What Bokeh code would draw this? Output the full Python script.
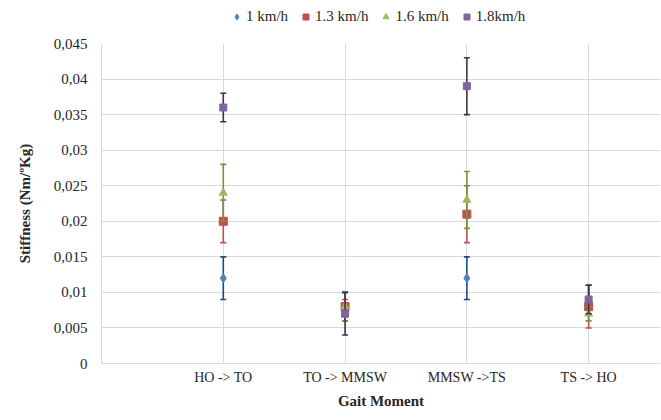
from bokeh.plotting import figure
from bokeh.layouts import column
from bokeh.models import FixedTicker, Legend, LegendItem, Range1d, ColumnDataSource
from bokeh.embed import file_html
from bokeh.resources import INLINE

# ---- data ----
categories = ["HO -> TO", "TO -> MMSW", "MMSW ->TS", "TS -> HO"]
cat_x = [1, 2, 3, 4]
series_names = ["1 km/h", "1.3 km/h", "1.6 km/h", "1.8km/h"]
v_1 = [0.012, 0.008, 0.012, 0.009]
e_1 = [0.003, 0.002, 0.003, 0.002]
v_13 = [0.020, 0.008, 0.021, 0.008]
e_13 = [0.003, 0.001, 0.004, 0.003]
v_16 = [0.024, 0.008, 0.023, 0.007]
e_16 = [0.004, 0.002, 0.004, 0.001]
v_18 = [0.036, 0.007, 0.039, 0.009]
e_18 = [0.002, 0.003, 0.004, 0.002]
y_ticks = [0, 0.005, 0.01, 0.015, 0.02, 0.025, 0.03, 0.035, 0.04, 0.045]
y_tick_labels = ["0", "0,005", "0,01", "0,015", "0,02", "0,025", "0,03", "0,035", "0,04", "0,045"]

FONT = "Liberation Serif"
LEG_H = 33

p = figure(width=661, height=420 - LEG_H, output_backend="svg", toolbar_location=None,
           x_range=Range1d(0, 4.59), y_range=Range1d(0, 0.045),
           min_border_left=101, min_border_right=1, min_border_top=10, min_border_bottom=57)
p.outline_line_color = None
p.background_fill_color = "white"
p.border_fill_color = "white"

# legend strip (separate figure so the legend sits above the plot frame)
lg = figure(width=661, height=LEG_H, output_backend="svg", toolbar_location=None,
            x_range=p.x_range, y_range=p.y_range,
            x_axis_location=None, y_axis_location=None,
            min_border_left=0, min_border_right=0, min_border_top=0, min_border_bottom=0)
lg.outline_line_color = None
lg.grid.visible = False

# axes
p.xaxis.ticker = FixedTicker(ticks=cat_x)
p.xaxis.major_label_overrides = {x: c for x, c in zip(cat_x, categories)}
p.yaxis.ticker = FixedTicker(ticks=y_ticks)
p.yaxis.major_label_overrides = {t: l for t, l in zip(y_ticks, y_tick_labels)}
for ax in (p.xaxis, p.yaxis):
    ax.axis_line_color = "#D9D9D9"
    ax.major_tick_line_color = None
    ax.minor_tick_line_color = None
    ax.major_tick_out = 0
    ax.major_tick_in = 0
    ax.major_label_text_font = FONT
    ax.major_label_text_color = "#262626"
    ax.axis_label_text_font = FONT
    ax.axis_label_text_font_style = "bold"
    ax.axis_label_text_font_size = "15px"
    ax.axis_label_text_color = "#262626"
p.xaxis.major_label_text_font_size = "14px"
p.yaxis.major_label_text_font_size = "15px"
p.xaxis.major_label_standoff = 6
p.yaxis.major_label_standoff = 14
p.xaxis.axis_label = "Gait Moment"
p.yaxis.axis_label = "Stiffness (Nm/ºKg)"
p.xaxis.axis_label_standoff = 5
p.yaxis.axis_label_standoff = 18

p.xgrid.ticker = FixedTicker(ticks=cat_x)
p.ygrid.ticker = FixedTicker(ticks=y_ticks)
p.xgrid.grid_line_color = "#D9D9D9"
p.ygrid.grid_line_color = "#D9D9D9"

series = [
    (v_1, e_1, "#4F81BD", "#1F4A87", "diamond", 9),
    (v_13, e_13, "#C0504D", "#C0504D", "square", 8),
    (v_16, e_16, "#9BBB59", "#77933C", "triangle", 8),
    (v_18, e_18, "#8064A2", "#3F3151", "square", 7),
]

items = []
for name, (vals, errs, mcol, ecol, marker, size) in zip(series_names, series):
    lo = [v - e for v, e in zip(vals, errs)]
    hi = [v + e for v, e in zip(vals, errs)]
    src = ColumnDataSource(dict(x=cat_x, y=vals, lo=lo, hi=hi))
    p.segment(x0="x", y0="lo", x1="x", y1="hi", source=src, line_color=ecol, line_width=1.6)
    p.scatter(x="x", y="lo", source=src, marker="dash", size=6, line_color=ecol, line_width=1.6)
    p.scatter(x="x", y="hi", source=src, marker="dash", size=6, line_color=ecol, line_width=1.6)
    p.scatter(x="x", y="y", source=src, marker=marker, size=size,
              fill_color=mcol, line_color=mcol)
    # same series in the legend strip (not drawn, only used for the legend glyph)
    rl = lg.scatter(x="x", y="y", source=src, marker=marker, size=size,
                    fill_color=mcol, line_color=mcol, visible=False)
    items.append(LegendItem(label=name, renderers=[rl]))

legend = Legend(items=items, orientation="horizontal", location=(128, 8),
                label_text_font=FONT, label_text_font_size="15px", label_text_color="#262626",
                glyph_width=15, glyph_height=15, label_standoff=2, spacing=10,
                padding=0, margin=0, border_line_color=None, background_fill_alpha=0)
lg.add_layout(legend)

layout = column(lg, p, spacing=0)
open("out.html", "w").write(file_html(layout, INLINE))
